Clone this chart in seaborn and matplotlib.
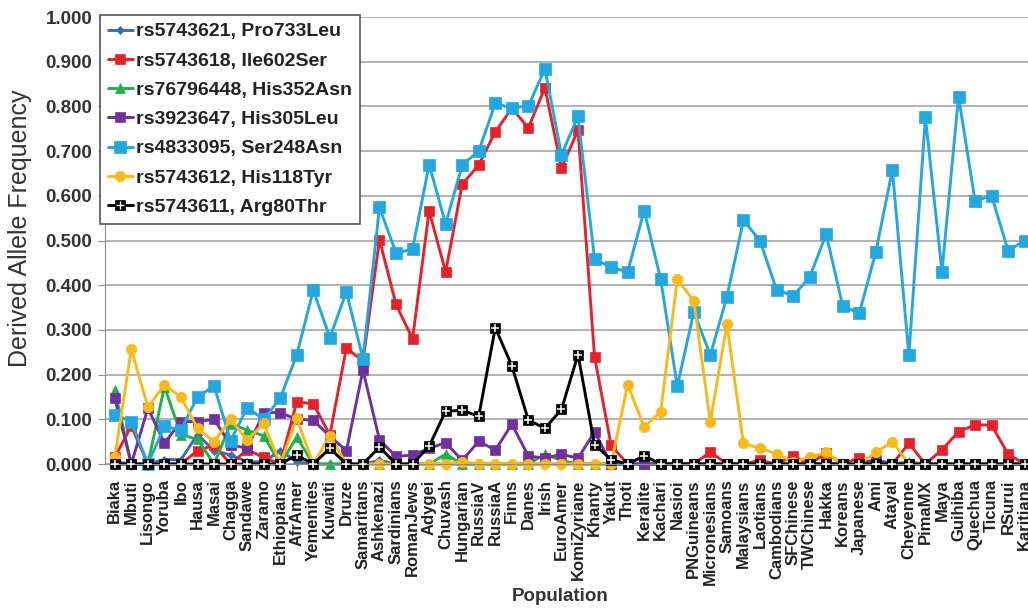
import numpy as np
import pandas as pd
import matplotlib
matplotlib.use("Agg")
import matplotlib.pyplot as plt
import seaborn as sns
from matplotlib.legend_handler import HandlerTuple

populations = ["Biaka", "Mbuti", "Lisongo", "Yoruba", "Ibo", "Hausa", "Masai", "Chagga",
               "Sandawe", "Zaramo", "Ethiopians", "AfrAmer", "Yemenites", "Kuwaiti", "Druze",
               "Samaritans", "Ashkenazi", "Sardinians", "RomanJews", "Adygei", "Chuvash",
               "Hungarian", "RussiaV", "RussiaA", "Finns", "Danes", "Irish", "EuroAmer",
               "KomiZyriane", "Khanty", "Yakut", "Thoti", "Keralite", "Kachari", "Nasioi",
               "PNGuineans", "Micronesians", "Samoans", "Malaysians", "Laotians", "Cambodians",
               "SFChinese", "TWChinese", "Hakka", "Koreans", "Japanese", "Ami", "Atayal",
               "Cheyenne", "PimaMX", "Maya", "Guihiba", "Quechua", "Ticuna", "RSurui", "Karitiana"]

rs5743621 = [0.005, 0.0, 0.0, 0.010, 0.010, 0.066, 0.030, 0.020, 0.005, 0.005, 0.030, 0.005,
             0.0, 0.0, 0.0, 0.0, 0.008, 0.0, 0.0, 0.0, 0.0, 0.0, 0.0, 0.0, 0.0, 0.0, 0.0, 0.0,
             0.0, 0.0, 0.0, 0.0, 0.0, 0.0, 0.0, 0.0, 0.0, 0.0, 0.0, 0.0, 0.0, 0.0, 0.0, 0.0,
             0.0, 0.0, 0.0, 0.0, 0.0, 0.0, 0.0, 0.0, 0.0, 0.0, 0.0, 0.0]

rs5743618 = [0.015, 0.085, 0.0, 0.0, 0.0, 0.030, 0.042, 0.0, 0.032, 0.015, 0.0, 0.139,
             0.135, 0.065, 0.260, 0.230, 0.502, 0.357, 0.280, 0.566, 0.430, 0.626, 0.669,
             0.743, 0.796, 0.752, 0.842, 0.662, 0.747, 0.240, 0.042, 0.0, 0.0, 0.0, 0.0,
             0.0, 0.027, 0.0, 0.0, 0.008, 0.0, 0.018, 0.0, 0.025, 0.0, 0.014, 0.0, 0.0,
             0.046, 0.0, 0.032, 0.072, 0.088, 0.087, 0.022, 0.0]

rs76796448 = [0.165, 0.0, 0.0, 0.173, 0.066, 0.055, 0.0, 0.090, 0.076, 0.063, 0.0, 0.060,
              0.0, 0.0, 0.0, 0.0, 0.0, 0.0, 0.0, 0.0, 0.022, 0.0, 0.0, 0.0, 0.0, 0.0, 0.022,
              0.008, 0.0, 0.0, 0.0, 0.0, 0.0, 0.0, 0.0, 0.0, 0.0, 0.0, 0.0, 0.0, 0.0, 0.0,
              0.0, 0.0, 0.0, 0.0, 0.0, 0.0, 0.005, 0.0, 0.0, 0.0, 0.0, 0.0, 0.0, 0.0]

rs3923647 = [0.147, 0.0, 0.125, 0.047, 0.095, 0.095, 0.100, 0.043, 0.035, 0.115, 0.115,
             0.100, 0.098, 0.062, 0.030, 0.210, 0.054, 0.017, 0.020, 0.035, 0.048, 0.008,
             0.051, 0.031, 0.089, 0.018, 0.013, 0.022, 0.013, 0.072, 0.0, 0.0, 0.0, 0.0,
             0.0, 0.0, 0.0, 0.0, 0.0, 0.0, 0.0, 0.0, 0.0, 0.0, 0.0, 0.0, 0.010, 0.0, 0.0,
             0.0, 0.0, 0.0, 0.0, 0.0, 0.0, 0.0]

rs4833095 = [0.110, 0.095, 0.0, 0.084, 0.077, 0.150, 0.175, 0.052, 0.126, 0.100, 0.147,
             0.244, 0.389, 0.283, 0.385, 0.236, 0.574, 0.472, 0.481, 0.670, 0.537, 0.669,
             0.700, 0.807, 0.796, 0.801, 0.884, 0.692, 0.778, 0.459, 0.440, 0.430, 0.567,
             0.413, 0.174, 0.340, 0.244, 0.374, 0.545, 0.500, 0.390, 0.376, 0.418, 0.514,
             0.354, 0.337, 0.474, 0.658, 0.243, 0.776, 0.430, 0.822, 0.589, 0.600, 0.477, 0.500]

rs5743612 = [0.015, 0.257, 0.127, 0.177, 0.150, 0.080, 0.050, 0.100, 0.053, 0.091, 0.0,
             0.102, 0.0, 0.063, 0.0, 0.0, 0.0, 0.0, 0.0, 0.0, 0.0, 0.005, 0.0, 0.0, 0.0,
             0.0, 0.0, 0.0, 0.0, 0.0, 0.0, 0.177, 0.083, 0.117, 0.413, 0.365, 0.094, 0.313,
             0.046, 0.035, 0.023, 0.005, 0.015, 0.026, 0.0, 0.0, 0.026, 0.050, 0.0, 0.0,
             0.0, 0.0, 0.0, 0.0, 0.0, 0.0]

rs5743611 = [0.0, 0.0, 0.0, 0.0, 0.0, 0.0, 0.0, 0.0, 0.0, 0.0, 0.0, 0.020, 0.0, 0.035, 0.0,
             0.0, 0.038, 0.0, 0.0, 0.040, 0.118, 0.120, 0.107, 0.305, 0.220, 0.098, 0.080,
             0.122, 0.245, 0.043, 0.010, 0.0, 0.018, 0.0, 0.0, 0.0, 0.0, 0.0, 0.0, 0.0, 0.0,
             0.0, 0.0, 0.0, 0.0, 0.0, 0.0, 0.0, 0.0, 0.0, 0.0, 0.0, 0.0, 0.0, 0.0, 0.0]

series_labels = ["rs5743621, Pro733Leu", "rs5743618, Ile602Ser", "rs76796448, His352Asn",
                 "rs3923647, His305Leu", "rs4833095, Ser248Asn", "rs5743612, His118Tyr",
                 "rs5743611, Arg80Thr"]
yticks = [0.0, 0.1, 0.2, 0.3, 0.4, 0.5, 0.6, 0.7, 0.8, 0.9, 1.0]

series_values = [rs5743621, rs5743618, rs76796448, rs3923647, rs4833095, rs5743612, rs5743611]
colors = ["#3A6DB5", "#E8202A", "#22B04B", "#7030A0", "#22A7E0", "#FBB917", "#000000"]
markers = ["D", "s", "^", "s", "s", "o", "s"]
msizes = [4.5, 7, 7, 7, 8, 7.5, 7.5]

sns.set_style("white")
plt.rcParams["font.family"] = ["Liberation Sans", "DejaVu Sans"]

fig = plt.figure(figsize=(10.28, 6.10), dpi=100)
ax = fig.add_axes([0.102, 0.2393, 0.898, 0.7328])

x_idx = np.arange(len(populations))
handles = []
for vals, lab, col, mk, ms in zip(series_values, series_labels, colors, markers, msizes):
    sns.lineplot(x=x_idx, y=vals, ax=ax, color=col, marker=mk, markersize=ms,
                 markeredgecolor=col, markeredgewidth=0.5, linewidth=2.1,
                 errorbar=None, sort=False, clip_on=False)
    line = ax.get_lines()[-1]
    handles.append(line)

# white crosses inside the black squares
sns.scatterplot(x=x_idx, y=rs5743611, ax=ax, marker="+", color="white", s=38,
                linewidth=1.1, zorder=5, clip_on=False, legend=False)
cross = plt.Line2D([], [], linestyle="none", marker="+", color="white",
                   markersize=5.5, markeredgewidth=1.0)
handles[-1] = (handles[-1], cross)

ax.set_xlim(-0.6, 55.2)
ax.set_ylim(0, 1.0)
ax.set_yticks(yticks)
ax.set_yticklabels([f"{v:.3f}" for v in yticks], fontsize=13.5, fontweight="bold",
                   color="#333333")
ax.set_xticks(x_idx)
ax.set_xticklabels(populations, rotation=90, fontsize=12, fontweight="bold",
                   color="#222222")
ax.yaxis.grid(True, color="#A6A6A6", linewidth=1.2)
ax.xaxis.grid(False)
for s in ["top", "right"]:
    ax.spines[s].set_visible(False)
ax.spines["left"].set_color("#8C8C8C")
ax.spines["bottom"].set_color("#8C8C8C")
ax.tick_params(axis="y", length=5, color="#8C8C8C", pad=4, left=True)
ax.tick_params(axis="x", length=4, color="#8C8C8C", pad=7, bottom=True)

ax.set_ylabel("Derived Allele Frequency", fontsize=18, color="#333333")
ax.yaxis.set_label_coords(-0.079, 0.528)
ax.set_xlabel("Population", fontsize=13.5, fontweight="bold", color="#333333")
ax.xaxis.set_label_coords(0.493, -0.277)

leg = ax.legend(handles, series_labels, loc="upper left",
                bbox_to_anchor=(100 / 1028, 1 - 15 / 610), bbox_transform=fig.transFigure,
                borderaxespad=0, frameon=True, fancybox=False, framealpha=1,
                edgecolor="#555555", handlelength=1.3, handletextpad=0.15,
                labelspacing=0.6, borderpad=0.4,
                prop={"weight": "bold", "size": 14},
                handler_map={tuple: HandlerTuple(ndivide=1)})
leg.get_frame().set_linewidth(1.2)
for t in leg.get_texts():
    t.set_color("#222222")
leg.set_zorder(10)

fig.savefig("out.png", dpi=100)
